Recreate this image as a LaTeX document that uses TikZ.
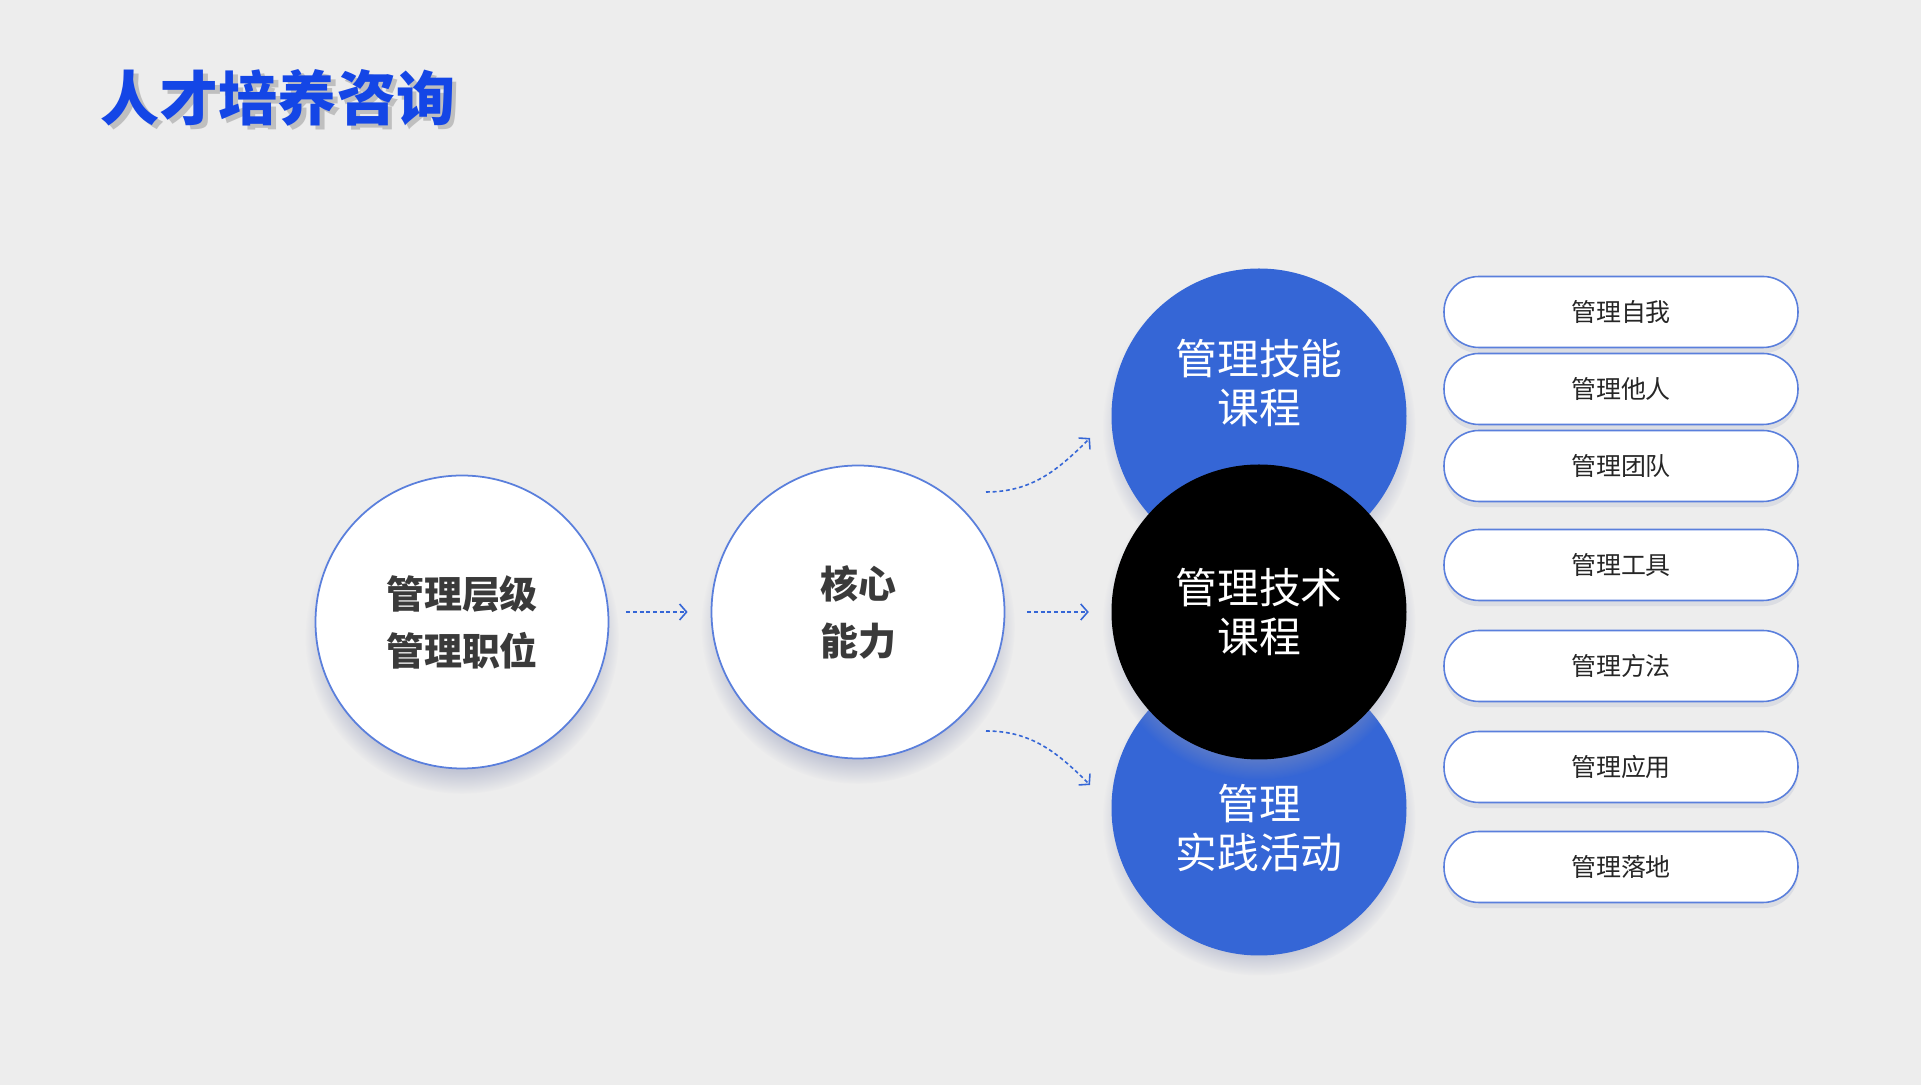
\documentclass[tikz,border=0pt]{standalone}
\usepackage{fontspec}
\usetikzlibrary{arrows.meta,shadows}

\newfontfamily\cjk{Noto Sans CJK SC}
\definecolor{pagegray}{HTML}{EDEDED}
\definecolor{titleblue}{HTML}{1446E6}
\definecolor{courseblue}{HTML}{3566D6}
\definecolor{ringblue}{HTML}{5A7FDC}
\definecolor{stagetext}{HTML}{3A3A3A}
\definecolor{haze}{HTML}{8E96B8}
\newcommand\shadowed[1]{\makebox[0pt][l]{\hspace{1.2pt}\raisebox{-1.2pt}{\textcolor{black!25}{#1}}}#1}

\begin{document}
\begin{tikzpicture}[
    stage/.style={circle, draw=ringblue, line width=0.5pt, fill=white, minimum size=2.93cm, inner sep=0pt, align=center, text=stagetext, font=\cjk\bfseries\fontsize{10.8pt}{16.2pt}\selectfont, circular drop shadow={shadow xshift=0pt, shadow yshift=-4pt, shadow scale=1.07, fill=haze, opacity=0.45}},
    course/.style={circle, minimum size=2.95cm, inner sep=0pt, circular drop shadow={shadow xshift=0pt, shadow yshift=-3pt, shadow scale=1.06, fill=haze, opacity=0.45}},
    course text/.style={align=center, text=white, font=\cjk\fontsize{11.9pt}{13.9pt}\selectfont},
    topic/.style={draw=ringblue, line width=0.45pt, fill=white, rounded corners=0.35cm, minimum width=3.54cm, minimum height=0.71cm, text=black!85, font=\cjk\fontsize{7.1pt}{8.5pt}\selectfont, drop shadow={shadow xshift=0pt, shadow yshift=-1.6pt, fill=haze, opacity=0.18}},
    flow/.style={draw=courseblue, line width=0.45pt, dash pattern=on 1.1pt off 0.8pt, -{Straight Barb[length=0.07cm, width=0.16cm]}}
]
        % background
        \useasboundingbox (0,0) rectangle (19.21,10.85);
        \fill[pagegray] (0,0) rectangle (19.21,10.85);

        % title
        \node[text=titleblue, font=\cjk\bfseries\fontsize{16.8pt}{20pt}\selectfont] at (2.78,9.85) (title) {\shadowed{人才培养咨询}};

        % stages
        \node[stage] at (4.62,4.63) (mgmt level) {管理层级\\管理职位};
        \node[stage] at (8.58,4.73) (core ability) {核心\\能力};

        % courses
        \node[course, fill=courseblue] at (12.59,6.69) (skill course) {};
        \node[course, fill=courseblue] at (12.59,2.77) (practice course) {};
        \node[course, course text, fill=black] at (12.59,4.73) (tech course) {管理技术\\课程};
        \node[course text] at (12.59,7.02) (skill label) {管理技能\\课程};
        \node[course text] at (12.59,2.57) (practice label) {管理\\实践活动};

        % topics
        \node[topic] at (16.21,7.73) (self) {管理自我};
        \node[topic] at (16.21,6.96) (others) {管理他人};
        \node[topic] at (16.21,6.19) (team) {管理团队};
        \node[topic] at (16.21,5.20) (tools) {管理工具};
        \node[topic] at (16.21,4.19) (methods) {管理方法};
        \node[topic] at (16.21,3.18) (usage) {管理应用};
        \node[topic] at (16.21,2.18) (landing) {管理落地};

        % links
        \draw[flow, shorten <=0.17cm, shorten >=0.23cm] (mgmt level.east |- core ability.west) -- (core ability.west);
        \draw[flow, shorten <=0.22cm, shorten >=0.22cm] (core ability.east) -- (tech course.west);

        \coordinate (rise start) at (9.86,5.93);
        \coordinate (rise end) at (10.90,6.47);
        \coordinate (fall start) at (9.86,3.54);
        \coordinate (fall end) at (10.90,3.00);
        \draw[flow] (rise start) to[out=0, in=-135] (rise end);
        \draw[flow] (fall start) to[out=0, in=135] (fall end);
\end{tikzpicture}
\end{document}
